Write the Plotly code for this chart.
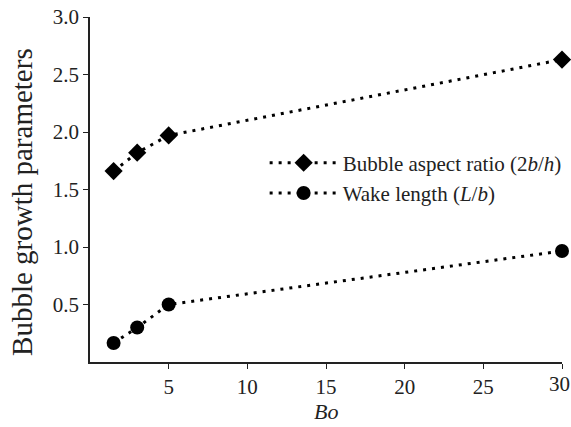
import plotly.graph_objects as go

bo = [1.5, 3.0, 5.0, 30.0]
aspect_ratio = [1.66, 1.82, 1.97, 2.63]
wake_length = [0.165, 0.30, 0.50, 0.965]
x_ticks = [5, 10, 15, 20, 25]
y_ticks = [0.5, 1.0, 1.5, 2.0, 2.5, 3.0]

FONT = "Liberation Serif, Times New Roman, serif"
TICK = 21
line_style = dict(color="black", width=3, dash="3px,6px")

fig = go.Figure()
fig.add_trace(go.Scatter(
    x=bo, y=aspect_ratio, mode="lines+markers",
    name="Bubble aspect ratio (2<i>b</i>/<i>h</i>)",
    line=line_style,
    marker=dict(symbol="diamond", size=14, color="black"),
    cliponaxis=False,
))
fig.add_trace(go.Scatter(
    x=bo, y=wake_length, mode="lines+markers",
    name="Wake length (<i>L</i>/<i>b</i>)",
    line=line_style,
    marker=dict(symbol="circle", size=14, color="black"),
    cliponaxis=False,
))

fig.update_layout(
    width=571, height=427,
    margin=dict(l=90, r=9, t=17, b=65, autoexpand=False),
    paper_bgcolor="white", plot_bgcolor="white",
    font=dict(family=FONT, size=TICK, color="#222"),
    showlegend=True,
    legend=dict(
        x=0.37, y=0.533, xanchor="left", yanchor="middle",
        bgcolor="rgba(0,0,0,0)", itemwidth=68,
        font=dict(family=FONT, size=TICK, color="#222"),
        tracegroupgap=0, itemsizing="trace",
    ),
    xaxis=dict(
        range=[0, 30], tickvals=x_ticks + [30], ticktext=[str(v) for v in x_ticks] + [""],
        showgrid=False, zeroline=False, showline=True, linecolor="#222",
        linewidth=1.5, ticks="outside", ticklen=5, tickcolor="#222",
        ticklabelstandoff=0,
    ),
    yaxis=dict(
        range=[0, 3], tickvals=y_ticks, tickformat=".1f",
        showgrid=False, zeroline=False, showline=True, linecolor="#222",
        linewidth=1.5, ticks="outside", ticklen=5, tickcolor="#222",
    ),
)
fig.add_annotation(x=-1.1, y=0, xref="x", yref="y", text="0", showarrow=False,
                   yanchor="top", yshift=-8, font=dict(family=FONT, size=TICK, color="#222"))
fig.add_annotation(x=30, y=0, xref="x", yref="y", text="30", showarrow=False,
                   yanchor="top", yshift=-8, xshift=-3, font=dict(family=FONT, size=TICK, color="#222"))
fig.add_annotation(x=0.5, y=0, xref="paper", yref="paper", text="<i>Bo</i>", showarrow=False,
                   xanchor="center", yanchor="bottom", yshift=-64,
                   font=dict(family=FONT, size=22, color="#222"))
fig.add_annotation(x=-0.144, y=0.464, xref="paper", yref="paper", text="Bubble growth parameters",
                   textangle=-90, showarrow=False, xanchor="center", yanchor="middle",
                   font=dict(family=FONT, size=29, color="#222"))

fig.write_html("out.html")
